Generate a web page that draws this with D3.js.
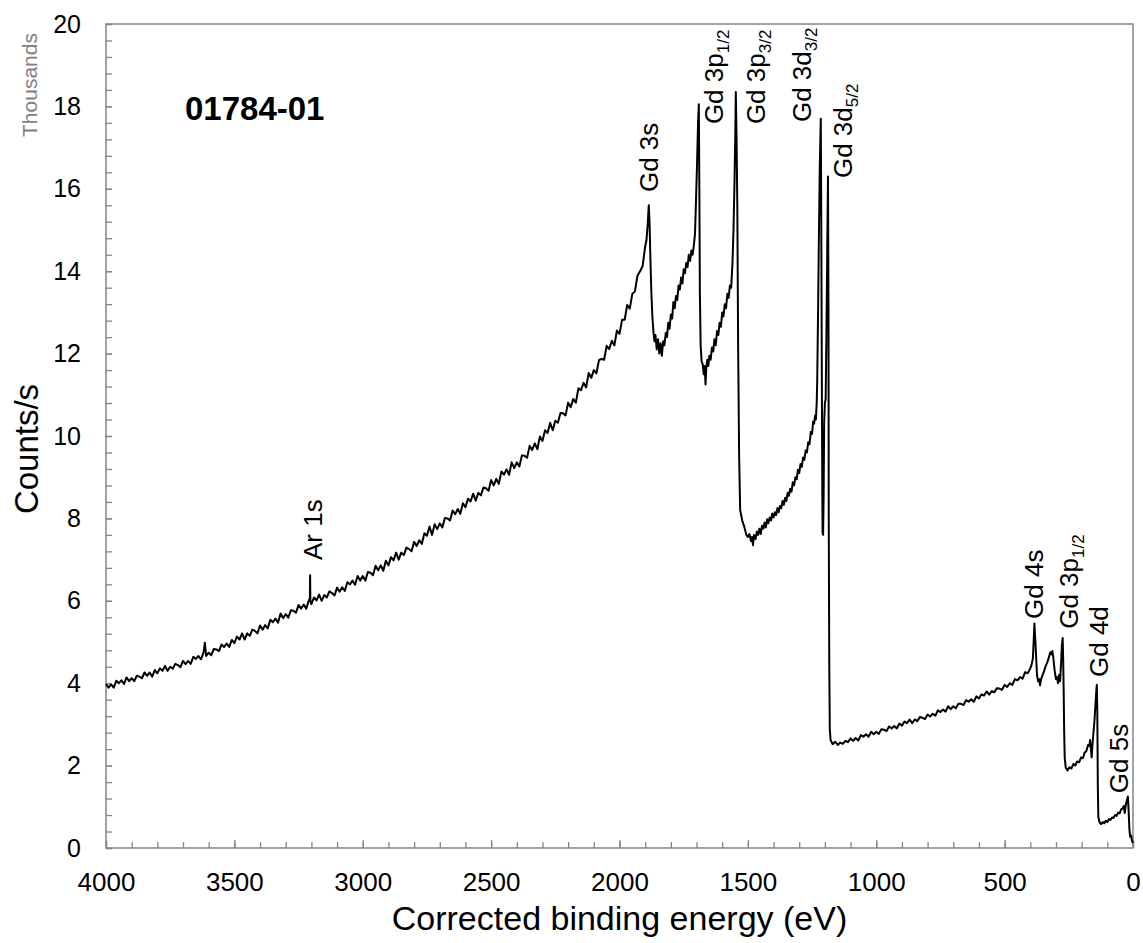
<!DOCTYPE html>
<html>
<head>
<meta charset="utf-8">
<script src="https://cdn.jsdelivr.net/npm/d3@7"></script>
<style>
  body { margin: 0; background: #fff; }
  text { font-family: "Liberation Sans", Arial, sans-serif; }
</style>
</head>
<body>
<div id="chart"></div>
<script>
// spectrum: [binding energy (eV), counts/s in thousands]
const wideRegion = [
  [4000,3.98],[3990,3.89],[3980,3.97],[3970,3.89],[3960,4.06],[3950,4.00],[3940,4.07],[3930,3.98],[3920,4.14],[3910,4.05],
  [3900,4.12],[3890,4.05],[3880,4.18],[3870,4.16],[3860,4.12],[3850,4.26],[3840,4.18],[3830,4.26],[3820,4.16],[3810,4.32],
  [3800,4.24],[3790,4.36],[3780,4.30],[3770,4.42],[3760,4.30],[3750,4.40],[3740,4.35],[3730,4.47],[3720,4.44],[3710,4.39],
  [3700,4.54],[3690,4.46],[3680,4.54],[3670,4.47],[3660,4.64],[3650,4.59],[3640,4.66],[3630,4.58],[3620,4.75],[3615,4.98],
  [3610,4.66],[3600,4.74],[3590,4.68],[3580,4.83],[3570,4.82],[3560,4.78],[3550,4.94],[3540,4.88],[3530,4.96],[3520,4.88],
  [3510,5.05],[3500,4.97],[3490,5.13],[3480,5.06],[3470,5.21],[3460,5.06],[3450,5.21],[3440,5.15],[3430,5.30],[3420,5.27],
  [3410,5.21],[3400,5.40],[3390,5.30],[3380,5.41],[3370,5.33],[3360,5.54],[3350,5.48],[3340,5.57],[3330,5.47],[3320,5.69],
  [3310,5.58],[3300,5.68],[3290,5.59],[3280,5.77],[3270,5.76],[3260,5.71],[3250,5.90],[3240,5.81],[3230,5.91],[3220,5.81],
  [3210,6.01],[3206,6.05],[3205,6.62],[3204,6.00],[3200,5.92],[3190,6.08],[3180,6.01],[3170,6.15],[3160,6.00],[3150,6.14],
  [3140,6.08],[3130,6.23],[3120,6.19],[3110,6.13],[3100,6.32],[3090,6.22],[3080,6.33],[3070,6.24],[3060,6.45],[3050,6.40],
  [3040,6.49],[3030,6.39],[3020,6.60],[3010,6.49],[3000,6.60],[2990,6.49],[2980,6.70],[2970,6.68],[2960,6.62],[2950,6.85],
  [2940,6.74],[2930,6.86],[2920,6.73],[2910,6.97],[2900,6.86],[2890,7.06],[2880,6.98],[2870,7.17],[2860,7.00],[2850,7.17],
  [2840,7.11],[2830,7.29],[2820,7.26],[2810,7.20],[2800,7.43],[2790,7.33],[2780,7.47],[2770,7.38],[2760,7.64],[2750,7.58],
  [2740,7.80],[2730,7.60],[2720,7.86],[2710,7.74],[2700,7.88],[2690,7.78],[2680,8.01],[2670,8.00],[2660,7.95],[2650,8.19],
  [2640,8.10],[2630,8.23],[2620,8.11],[2610,8.37],[2600,8.27],[2590,8.48],[2580,8.41],[2570,8.60],[2560,8.43],[2550,8.62],
  [2540,8.56],[2530,8.75],[2520,8.73],[2510,8.67],[2500,8.93],[2490,8.80],[2480,8.96],[2470,8.84],[2460,9.14],[2450,9.06],
  [2440,9.19],[2430,9.06],[2420,9.36],[2410,9.22],[2400,9.36],[2390,9.26],[2380,9.53],[2370,9.52],[2360,9.47],[2350,9.76],
  [2340,9.66],[2330,9.82],[2320,9.68],[2310,9.99],[2300,9.88],[2290,10.14],[2280,10.07],[2270,10.32],[2260,10.14],[2250,10.37],
  [2240,10.32],[2230,10.56],[2220,10.55],[2210,10.50],[2200,10.81],[2190,10.70],[2180,10.90],[2170,10.81],[2160,11.16],[2150,11.11],
  [2140,11.29],[2130,11.18],[2120,11.53],[2110,11.41],[2100,11.60],[2090,11.52],[2080,11.84],[2070,11.87],[2060,11.85],[2050,12.19],
  [2040,12.11],[2030,12.31],[2020,12.20],[2010,12.56],[2000,12.48],[1990,12.82],[1980,12.82],[1970,13.18],[1960,13.09],[1950,13.45],
  [1940,13.51],[1930,13.89],[1920,14.00],[1910,14.12],[1900,14.60]
];

const gd3sp = [
  [1895,14.75],[1890,15.15],[1886,15.60],[1883,15.2],[1880,14.4],[1876,13.5],[1872,12.9],[1868,12.55],
  [1864,12.3],[1860,12.45],[1855,12.1],[1850,12.35],[1845,12.0],[1840,12.25],[1835,11.95],[1830,12.3],
  [1825,12.2],[1820,12.5],[1815,12.4],[1810,12.75],[1805,12.6],[1800,12.95],[1795,12.85],[1790,13.25],
  [1785,13.1],[1780,13.4],[1775,13.3],[1770,13.65],[1765,13.55],[1760,13.85],[1755,13.7],[1750,14.05],
  [1745,13.95],[1740,14.2],[1735,14.1],[1730,14.4],[1725,14.25],[1720,14.5],[1715,14.4],[1710,14.65],
  [1706,14.9],[1703,15.5],[1698,16.6],[1694,17.6],[1691,18.05],[1689,16.0],[1687,13.5],[1684,12.2],
  [1680,11.8],[1676,11.75],[1672,11.5],[1668,11.7],[1665,11.25],[1662,11.65],[1658,11.85],[1654,11.7],
  [1650,11.95],[1645,11.85],[1640,12.15],[1635,12.05],[1630,12.35],[1625,12.2],[1620,12.55],[1615,12.45],
  [1610,12.75],[1605,12.65],[1600,13.0],[1595,12.9],[1590,13.2],[1585,13.1],[1580,13.45],[1575,13.35],
  [1570,13.65],[1565,13.6],[1560,14.2],[1556,15.0],[1552,16.2],[1549,17.3],[1547,18.35],[1544,17.2],
  [1541,15.5],[1538,12.2],[1534,9.5],[1530,8.2],[1522,7.95],[1514,7.8],[1506,7.6],[1500,7.55],
  [1494,7.62],[1488,7.45],[1484,7.55],[1480,7.35],[1476,7.6]
];

const gd3d = [
  [1470,7.5],[1465,7.68],[1460,7.6],[1455,7.75],[1450,7.62],[1445,7.82],[1440,7.75],[1435,7.9],
  [1430,7.78],[1425,7.98],[1420,7.88],[1415,8.02],[1410,7.95],[1405,8.12],[1400,8.02],[1395,8.15],
  [1390,8.08],[1385,8.25],[1380,8.15],[1375,8.3],[1370,8.25],[1365,8.42],[1360,8.33],[1355,8.5],
  [1350,8.42],[1345,8.62],[1340,8.55],[1335,8.72],[1330,8.65],[1325,8.88],[1320,8.8],[1315,9.0],
  [1310,8.95],[1305,9.18],[1300,9.1],[1295,9.32],[1290,9.25],[1285,9.48],[1280,9.42],[1275,9.65],
  [1270,9.6],[1265,9.85],[1260,9.8],[1255,10.1],[1250,10.05],[1246,10.35],[1242,10.3],[1238,10.5],
  [1235,10.4],[1232,10.8],[1230,11.3],[1227,12.8],[1224,14.5],[1220,16.5],[1216,17.7],[1214,15.0],
  [1212,11.5],[1210,8.5],[1209,7.65],[1207,7.6],[1205,8.5],[1203,10.3],[1200,10.8],[1197,10.9],
  [1194,12.5],[1188,16.3],[1186,13.0],[1185,8.0],[1183,4.5],[1181,2.9],[1178,2.62],[1170,2.52],
  [1160,2.58],[1150,2.5],[1140,2.56],[1130,2.53],[1120,2.6],[1110,2.57]
];

const lowEnergy = [
  [1100,2.66],[1090,2.60],[1080,2.67],[1070,2.61],[1060,2.74],[1050,2.70],[1040,2.76],[1030,2.70],[1020,2.82],[1010,2.76],
  [1000,2.82],[990,2.77],[980,2.88],[970,2.87],[960,2.84],[950,2.95],[940,2.90],[930,2.96],[920,2.90],[910,3.02],
  [900,2.97],[890,3.07],[880,3.03],[870,3.12],[860,3.03],[850,3.12],[840,3.08],[830,3.18],[820,3.16],[810,3.13],
  [800,3.24],[790,3.19],[780,3.26],[770,3.21],[760,3.34],[750,3.30],[740,3.36],[730,3.31],[720,3.44],[710,3.37],
  [700,3.44],[690,3.39],[680,3.50],[670,3.50],[660,3.47],[650,3.59],[640,3.55],[630,3.61],[620,3.55],[610,3.68],
  [600,3.63],[590,3.73],[580,3.70],[570,3.80],[560,3.72],[550,3.81],[540,3.78],[530,3.88],[520,3.87],[510,3.84],
  [500,3.96],[490,3.91],[480,4.00],[470,3.96],[460,4.10],[450,4.07],[440,4.15],[430,4.11],[420,4.27],[410,4.24],
  [400,4.36],[395,4.45],[390,4.6],[387,5.0],[384,5.45],[382,5.2],[380,5.0],[377,4.6],
  [374,4.2],[370,4.05],[366,4.1],[362,3.95],[358,4.1],[352,4.2],[346,4.3],[340,4.42],
  [334,4.5],[328,4.62],[322,4.75],[318,4.7],[314,4.78],[310,4.6],[305,4.3],[300,4.1],
  [296,4.15],[292,4.0],[288,4.2],[284,4.05],[280,4.5],[277,4.9],[274,5.1],[272,4.6],
  [270,3.8],[268,2.8],[266,2.2],[262,1.95],[255,1.88],[248,1.96],[240,1.93],[232,2.04],
  [225,2.0],[218,2.1],[210,2.08],[202,2.2],[195,2.18],[188,2.32],[182,2.35],[175,2.5],
  [170,2.48],[167,2.62],[164,2.4],[161,2.2],[158,2.5],[154,2.8],[150,3.1],[146,3.5],
  [143,3.8],[141,3.96],[139,3.3],[137,1.5],[135,0.75],[130,0.62],[124,0.58],[118,0.63],
  [112,0.6],[106,0.66],[100,0.63],[94,0.7],[88,0.68],[82,0.74],[76,0.73],[70,0.8],
  [64,0.78],[58,0.86],[52,0.84],[46,0.94],[40,0.96],[36,1.02],[32,0.85],[28,1.05],
  [24,1.15],[20,1.25],[17,0.9],[14,0.45],[11,0.27],[7,0.3],[4,0.18],[0,0.12]
];

// peak labels: text, subscript, anchor energy (eV) and anchor height (thousands)
const peakNames  = ["Ar 1s", "Gd 3s", "Gd 3p", "Gd 3p", "Gd 3d", "Gd 3d", "Gd 4s", "Gd 3p", "Gd 4d", "Gd 5s"];
const peakSubs   = ["",      "",      "1/2",   "3/2",   "3/2",   "5/2",   "",      "1/2",   "",      ""];
const peakEnergy = [3160,    1850,    1597,    1433,    1255,    1096,    351,     214,     97,      19];
const peakHeight = [6.99,    15.92,   17.57,   17.57,   17.62,   16.26,   5.56,    5.32,    4.15,    1.33];

const xTickValues = [4000, 3500, 3000, 2500, 2000, 1500, 1000, 500, 0];
const yTickValues = [0, 2, 4, 6, 8, 10, 12, 14, 16, 18, 20];

const width = 1143, height = 943;
const margin = { top: 24, right: 10, bottom: 95, left: 106 };
const plotW = width - margin.left - margin.right,
      plotH = height - margin.top - margin.bottom;
const axisGrey = "#858585";

const svg = d3.select("#chart")
  .append("svg")
  .attr("width", width)
  .attr("height", height);

const chart = svg.append("g")
  .attr("transform", `translate(${margin.left},${margin.top})`);

const x = d3.scaleLinear().domain([4000, 0]).range([0, plotW]);
const y = d3.scaleLinear().domain([0, 20]).range([plotH, 0]);

// minor ticks (inside the frame)
chart.append("g")
  .attr("transform", `translate(0,${plotH})`)
  .call(d3.axisBottom(x).tickValues(d3.range(0, 4001, 100)).tickSize(-6).tickFormat(""))
  .call(g => g.select(".domain").remove())
  .call(g => g.selectAll("line").attr("stroke", axisGrey).attr("stroke-width", 1.3));

chart.append("g")
  .call(d3.axisLeft(y).tickValues(d3.range(0, 20.01, 0.4)).tickSize(-6).tickFormat(""))
  .call(g => g.select(".domain").remove())
  .call(g => g.selectAll("line").attr("stroke", axisGrey).attr("stroke-width", 1.3));

// major ticks with labels
chart.append("g")
  .attr("transform", `translate(0,${plotH})`)
  .call(d3.axisBottom(x).tickValues(xTickValues).tickSize(-8).tickPadding(25).tickFormat(d3.format("d")))
  .call(g => g.select(".domain").remove())
  .call(g => g.selectAll("line").attr("stroke", axisGrey).attr("stroke-width", 1.3))
  .call(g => g.selectAll("text").attr("font-size", 26).attr("fill", "#000")
    .style("font-family", "'Liberation Sans', Arial, sans-serif"));

chart.append("g")
  .call(d3.axisLeft(y).tickValues(yTickValues).tickSize(-6).tickPadding(25).tickFormat(d3.format("d")))
  .call(g => g.select(".domain").remove())
  .call(g => g.selectAll("line").attr("stroke", axisGrey).attr("stroke-width", 1.3))
  .call(g => g.selectAll("text").attr("font-size", 25).attr("fill", "#000")
    .style("font-family", "'Liberation Sans', Arial, sans-serif"));

// frame
chart.append("rect")
  .attr("width", plotW)
  .attr("height", plotH)
  .attr("fill", "none")
  .attr("stroke", axisGrey)
  .attr("stroke-width", 1.5);

// spectrum
const spectrum = wideRegion.concat(gd3sp, gd3d, lowEnergy);

chart.append("path")
  .datum(spectrum)
  .attr("d", d3.line()
    .x(d => x(d[0]))
    .y(d => y(d[1]))
  )
  .attr("fill", "none")
  .attr("stroke", "#000")
  .attr("stroke-width", 2)
  .attr("stroke-linejoin", "round");

// peak labels
peakNames.forEach((name, i) => {
  const t = chart.append("text")
    .attr("transform", `translate(${x(peakEnergy[i])},${y(peakHeight[i])}) rotate(-90)`)
    .attr("font-size", 26)
    .attr("fill", "#000")
    .text(name);
  if (peakSubs[i]) {
    t.append("tspan")
      .attr("font-size", 17)
      .attr("dy", 6)
      .text(peakSubs[i]);
  }
});

// sample id
chart.append("text")
  .attr("x", 185 - margin.left)
  .attr("y", 120 - margin.top)
  .attr("font-size", 33)
  .attr("font-weight", "bold")
  .text("01784-01");

// axis titles
svg.append("text")
  .attr("transform", `translate(38,${margin.top + plotH / 2 + 13}) rotate(-90)`)
  .attr("text-anchor", "middle")
  .attr("font-size", 33)
  .text("Counts/s");

svg.append("text")
  .attr("transform", "translate(37,85) rotate(-90)")
  .attr("text-anchor", "middle")
  .attr("font-size", 21)
  .attr("fill", "#7f7f7f")
  .text("Thousands");

svg.append("text")
  .attr("x", margin.left + plotW / 2)
  .attr("y", 930)
  .attr("text-anchor", "middle")
  .attr("font-size", 34)
  .text("Corrected binding energy (eV)");
</script>
</body>
</html>
